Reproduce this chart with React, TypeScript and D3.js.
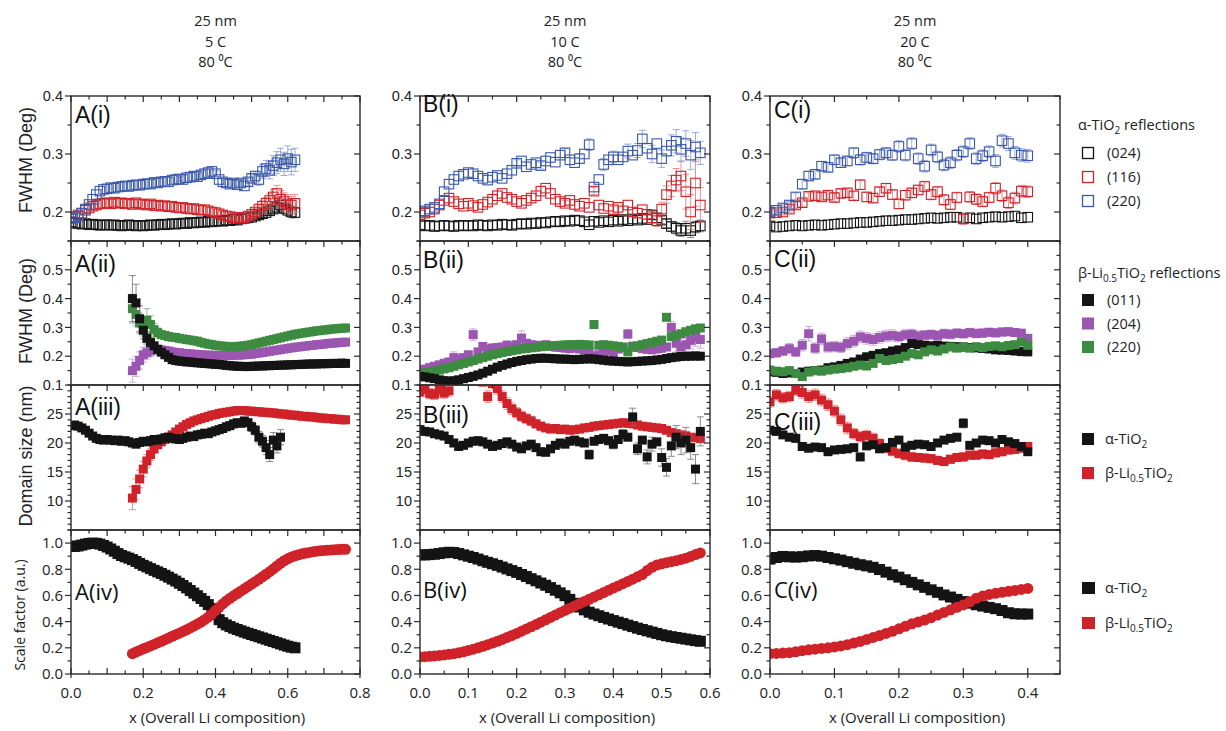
import React from "react";
import * as d3 from "d3";

// ---------- x grids (overall Li composition) ----------
const xA = [0,0.01,0.02,0.03,0.04,0.05,0.06,0.07,0.08,0.09,
  0.1,0.11,0.12,0.13,0.14,0.15,0.16,0.17,0.18,0.19,
  0.2,0.21,0.22,0.23,0.24,0.25,0.26,0.27,0.28,0.29,
  0.3,0.31,0.32,0.33,0.34,0.35,0.36,0.37,0.38,0.39,
  0.4,0.41,0.42,0.43,0.44,0.45,0.46,0.47,0.48,0.49,
  0.5,0.51,0.52,0.53,0.54,0.55,0.56,0.57,0.58,0.59,
  0.6,0.61,0.62];
const xAb = [0.17,0.18,0.19,
  0.2,0.21,0.22,0.23,0.24,0.25,0.26,0.27,0.28,0.29,
  0.3,0.31,0.32,0.33,0.34,0.35,0.36,0.37,0.38,0.39,
  0.4,0.41,0.42,0.43,0.44,0.45,0.46,0.47,0.48,0.49,
  0.5,0.51,0.52,0.53,0.54,0.55,0.56,0.57,0.58,0.59,
  0.6,0.61,0.62,0.63,0.64,0.65,0.66,0.67,0.68,0.69,
  0.7,0.71,0.72,0.73,0.74,0.75,0.76];
const xB = [0,0.01,0.02,0.03,0.04,0.05,0.06,0.07,0.08,0.09,
  0.1,0.11,0.12,0.13,0.14,0.15,0.16,0.17,0.18,0.19,
  0.2,0.21,0.22,0.23,0.24,0.25,0.26,0.27,0.28,0.29,
  0.3,0.31,0.32,0.33,0.34,0.35,0.36,0.37,0.38,0.39,
  0.4,0.41,0.42,0.43,0.44,0.45,0.46,0.47,0.48,0.49,
  0.5,0.51,0.52,0.53,0.54,0.55,0.56,0.57,0.58];
const xC = [0,0.01,0.02,0.03,0.04,0.05,0.06,0.07,0.08,0.09,
  0.1,0.11,0.12,0.13,0.14,0.15,0.16,0.17,0.18,0.19,
  0.2,0.21,0.22,0.23,0.24,0.25,0.26,0.27,0.28,0.29,
  0.3,0.31,0.32,0.33,0.34,0.35,0.36,0.37,0.38,0.39,0.4];

// ---------- Column A (25 nm, 5 C) ----------
const A1_024 = [0.183,0.181,0.180,0.179,0.180,0.178,0.179,0.178,0.177,0.178,
  0.178,0.177,0.178,0.177,0.176,0.177,0.178,0.177,0.176,0.177,
  0.176,0.177,0.178,0.177,0.178,0.179,0.178,0.179,0.180,0.179,
  0.180,0.181,0.180,0.182,0.181,0.182,0.183,0.182,0.184,0.183,
  0.184,0.185,0.184,0.186,0.185,0.187,0.186,0.188,0.189,0.190,
  0.191,0.193,0.195,0.197,0.199,0.202,0.205,0.208,0.212,0.206,
  0.203,0.200,0.199];
const A1_116 = [0.190,0.192,0.195,0.198,0.203,0.207,0.210,0.212,0.214,0.215,
  0.216,0.214,0.217,0.215,0.216,0.214,0.215,0.213,0.216,0.214,
  0.213,0.212,0.214,0.211,0.212,0.210,0.211,0.209,0.210,0.208,
  0.207,0.208,0.206,0.205,0.206,0.204,0.203,0.204,0.202,0.200,
  0.199,0.197,0.195,0.193,0.192,0.190,0.191,0.189,0.190,0.193,
  0.196,0.200,0.205,0.210,0.215,0.220,0.226,0.232,0.222,0.218,
  0.214,0.212,0.215];
const A1_220 = [0.188,0.190,0.193,0.198,0.205,0.213,0.222,0.230,0.236,0.239,
  0.240,0.242,0.241,0.243,0.244,0.245,0.244,0.246,0.247,0.246,
  0.248,0.249,0.248,0.251,0.250,0.252,0.253,0.252,0.255,0.256,
  0.257,0.256,0.259,0.260,0.262,0.261,0.264,0.266,0.268,0.270,
  0.266,0.256,0.252,0.250,0.248,0.250,0.247,0.250,0.245,0.252,
  0.258,0.262,0.256,0.270,0.275,0.272,0.280,0.285,0.290,0.283,
  0.292,0.286,0.290];
const errA1_024 = [[0.5,0.003],[0.51,0.003],[0.52,0.004],[0.53,0.004],[0.54,0.005],[0.55,0.006],[0.56,0.007],[0.57,0.008],[0.58,0.009],[0.59,0.009],[0.6,0.01],[0.61,0.01],[0.62,0.009]];
const errA1_116 = [[0.45,0.004],[0.47,0.004],[0.49,0.005],[0.5,0.005],[0.51,0.006],[0.52,0.008],[0.53,0.009],[0.54,0.01],[0.55,0.012],[0.56,0.013],[0.57,0.014],[0.58,0.015],[0.59,0.015],[0.6,0.016],[0.61,0.015],[0.62,0.015]];
const errA1_220 = [[0.3,0.004],[0.35,0.004],[0.4,0.005],[0.42,0.005],[0.45,0.005],[0.47,0.006],[0.49,0.006],[0.5,0.007],[0.51,0.008],[0.52,0.01],[0.53,0.012],[0.54,0.014],[0.55,0.015],[0.56,0.017],[0.57,0.019],[0.58,0.02],[0.59,0.02],[0.6,0.022],[0.61,0.022],[0.62,0.02]];

const A2_011 = [0.400,0.385,0.330,0.290,0.262,0.248,0.236,0.224,0.214,0.205,
  0.196,0.188,0.185,0.183,0.182,0.180,0.180,0.178,0.177,0.176,
  0.175,0.174,0.173,0.172,0.171,0.170,0.168,0.167,0.166,0.165,
  0.165,0.164,0.164,0.165,0.165,0.166,0.166,0.167,0.167,0.168,
  0.168,0.169,0.169,0.170,0.170,0.171,0.171,0.172,0.172,0.173,
  0.173,0.173,0.174,0.174,0.174,0.175,0.175,0.175,0.176,0.175];
const A2_204 = [0.150,0.165,0.185,0.205,0.212,0.218,0.222,0.224,0.222,0.220,
  0.218,0.215,0.213,0.212,0.210,0.209,0.208,0.207,0.206,0.205,
  0.204,0.204,0.203,0.203,0.202,0.202,0.202,0.203,0.203,0.204,
  0.204,0.205,0.206,0.207,0.209,0.211,0.213,0.215,0.217,0.219,
  0.221,0.223,0.225,0.227,0.229,0.231,0.232,0.234,0.235,0.237,
  0.238,0.240,0.241,0.242,0.244,0.245,0.246,0.247,0.248,0.249];
const A2_220 = [0.365,0.345,0.315,0.300,0.325,0.310,0.292,0.282,0.275,0.272,
  0.268,0.266,0.265,0.262,0.260,0.258,0.256,0.254,0.252,0.248,
  0.245,0.242,0.240,0.238,0.236,0.235,0.234,0.233,0.233,0.234,
  0.235,0.236,0.238,0.240,0.243,0.246,0.249,0.252,0.255,0.258,
  0.261,0.264,0.267,0.270,0.273,0.276,0.278,0.280,0.282,0.284,
  0.286,0.288,0.289,0.291,0.292,0.294,0.295,0.296,0.297,0.298];
const errA2_011 = [[0.17,0.08],[0.18,0.065],[0.19,0.045],[0.2,0.03],[0.21,0.02],[0.22,0.015],[0.23,0.012],[0.24,0.01],[0.25,0.008],[0.26,0.007],[0.27,0.006]];
const errA2_204 = [[0.17,0.04],[0.18,0.035],[0.19,0.03],[0.2,0.025],[0.21,0.022],[0.22,0.02],[0.23,0.016],[0.24,0.013],[0.25,0.01]];
const errA2_220 = [[0.17,0.05],[0.18,0.04],[0.19,0.035],[0.2,0.03],[0.21,0.04],[0.22,0.03],[0.23,0.022],[0.24,0.016],[0.25,0.012]];

const A3_alpha = [23.0,23.1,22.9,22.6,22.2,21.7,21.2,20.8,20.6,20.5,
  20.6,20.5,20.4,20.5,20.3,20.4,20.2,20.0,19.8,20.1,
  20.3,20.2,20.4,20.6,20.5,20.7,20.9,21.0,20.8,20.7,
  20.6,20.8,21.0,21.2,21.1,21.4,21.5,21.7,21.6,21.9,
  22.1,22.3,22.5,22.8,23.0,23.3,23.5,23.4,23.8,23.5,
  22.8,22.2,21.0,20.3,19.2,18.0,20.5,19.5,21.0];
const A3_beta = [10.5,12.0,13.8,15.5,16.9,18.0,19.0,19.7,20.2,20.6,
  21.0,21.4,21.9,22.4,22.8,23.2,23.5,23.8,24.0,24.2,
  24.4,24.6,24.8,24.9,25.1,25.2,25.3,25.4,25.5,25.6,
  25.6,25.6,25.5,25.5,25.4,25.4,25.3,25.3,25.2,25.2,
  25.1,25.0,25.0,24.9,24.8,24.8,24.7,24.6,24.6,24.5,
  24.5,24.4,24.3,24.3,24.2,24.2,24.1,24.1,24.0,24.0];
const errA3_alpha = [[0.48,0.6],[0.5,0.8],[0.51,0.8],[0.52,1.0],[0.53,1.0],[0.54,1.2],[0.55,1.2],[0.56,1.3],[0.57,1.2],[0.58,1.3]];
const errA3_beta = [[0.17,2.0],[0.18,1.8],[0.19,1.5],[0.2,1.3],[0.21,1.1],[0.22,1.0],[0.23,0.8],[0.24,0.7],[0.25,0.6]];

const A4_alpha = [0.975,0.975,0.978,0.985,0.992,0.997,1.000,0.998,0.992,0.982,
  0.970,0.955,0.938,0.920,0.905,0.895,0.885,0.874,0.860,0.845,
  0.830,0.818,0.805,0.792,0.780,0.768,0.754,0.740,0.725,0.710,
  0.693,0.676,0.658,0.638,0.618,0.598,0.577,0.555,0.530,0.500,
  0.455,0.415,0.392,0.375,0.362,0.350,0.340,0.330,0.320,0.311,
  0.302,0.293,0.284,0.275,0.266,0.257,0.248,0.239,0.230,0.221,
  0.212,0.205,0.200];
const A4_beta = [0.155,0.168,0.180,0.192,0.203,0.214,0.226,0.238,0.250,0.262,
  0.275,0.288,0.300,0.312,0.325,0.338,0.352,0.366,0.381,0.397,
  0.415,0.435,0.458,0.485,0.510,0.535,0.558,0.578,0.597,0.615,
  0.633,0.651,0.669,0.687,0.705,0.723,0.742,0.762,0.782,0.803,
  0.825,0.846,0.865,0.880,0.893,0.903,0.911,0.918,0.924,0.929,
  0.934,0.938,0.941,0.944,0.946,0.948,0.950,0.951,0.952,0.952];

// ---------- Column B (25 nm, 10 C) ----------
const B1_024 = [0.178,0.176,0.177,0.175,0.176,0.177,0.176,0.175,0.177,0.176,
  0.177,0.176,0.178,0.177,0.176,0.178,0.177,0.179,0.178,0.177,
  0.179,0.180,0.179,0.181,0.180,0.182,0.181,0.183,0.184,0.183,
  0.185,0.184,0.186,0.185,0.183,0.178,0.184,0.182,0.185,0.183,
  0.186,0.184,0.187,0.185,0.188,0.186,0.189,0.187,0.195,0.190,
  0.186,0.180,0.175,0.172,0.168,0.172,0.168,0.174,0.176];
const B1_116 = [0.195,0.198,0.200,0.205,0.212,0.220,0.224,0.218,0.214,0.210,
  0.215,0.211,0.208,0.213,0.217,0.222,0.228,0.232,0.225,0.222,
  0.218,0.215,0.220,0.224,0.228,0.236,0.241,0.232,0.222,0.218,
  0.215,0.220,0.213,0.210,0.215,0.208,0.236,0.212,0.206,0.210,
  0.204,0.208,0.202,0.212,0.200,0.198,0.204,0.196,0.190,0.185,
  0.205,0.230,0.245,0.255,0.262,0.235,0.200,0.250,0.212];
const B1_220 = [0.200,0.202,0.205,0.208,0.214,0.235,0.248,0.256,0.262,0.265,
  0.268,0.266,0.262,0.258,0.255,0.260,0.263,0.258,0.266,0.272,
  0.284,0.288,0.278,0.282,0.285,0.280,0.288,0.294,0.286,0.298,
  0.302,0.290,0.285,0.292,0.300,0.316,0.243,0.256,0.282,0.290,
  0.295,0.290,0.295,0.305,0.298,0.306,0.326,0.310,0.300,0.318,
  0.292,0.305,0.315,0.322,0.308,0.318,0.298,0.312,0.302];
const errB1_024 = [[0.48,0.006],[0.5,0.006],[0.51,0.007],[0.52,0.008],[0.53,0.01],[0.54,0.01],[0.55,0.012],[0.56,0.012],[0.57,0.01],[0.58,0.01]];
const errB1_116 = [[0.3,0.005],[0.36,0.006],[0.4,0.006],[0.45,0.008],[0.47,0.008],[0.48,0.01],[0.49,0.01],[0.5,0.012],[0.51,0.015],[0.52,0.018],[0.53,0.02],[0.54,0.025],[0.55,0.03],[0.56,0.03],[0.57,0.04],[0.58,0.03]];
const errB1_220 = [[0.2,0.006],[0.25,0.006],[0.3,0.008],[0.33,0.008],[0.35,0.01],[0.38,0.01],[0.4,0.01],[0.43,0.012],[0.45,0.012],[0.46,0.015],[0.48,0.015],[0.5,0.015],[0.52,0.018],[0.53,0.02],[0.54,0.02],[0.55,0.022],[0.56,0.025],[0.57,0.025],[0.58,0.02]];

const B2_011 = [0.130,0.128,0.125,0.122,0.118,0.115,0.113,0.115,0.118,0.122,
  0.126,0.130,0.135,0.141,0.148,0.155,0.162,0.168,0.173,0.178,
  0.182,0.185,0.188,0.190,0.192,0.193,0.193,0.192,0.191,0.190,
  0.190,0.189,0.188,0.189,0.190,0.191,0.190,0.188,0.186,0.184,
  0.183,0.182,0.181,0.180,0.181,0.182,0.183,0.184,0.185,0.187,
  0.189,0.192,0.195,0.197,0.199,0.200,0.200,0.201,0.200];
const B2_204 = [0.150,0.155,0.160,0.165,0.170,0.175,0.180,0.195,0.190,0.195,
  0.205,0.275,0.215,0.234,0.225,0.228,0.230,0.232,0.238,0.235,
  0.240,0.263,0.245,0.240,0.238,0.236,0.240,0.235,0.232,0.230,
  0.228,0.226,0.230,0.225,0.222,0.215,0.200,0.205,0.212,0.218,
  0.210,0.225,0.230,0.277,0.235,0.230,0.226,0.224,0.222,0.225,
  0.228,0.232,0.300,0.245,0.232,0.240,0.255,0.265,0.258];
const B2_220 = [0.140,0.142,0.145,0.148,0.152,0.156,0.160,0.165,0.170,0.175,
  0.180,0.185,0.190,0.195,0.200,0.205,0.209,0.213,0.216,0.219,
  0.222,0.225,0.227,0.229,0.231,0.233,0.234,0.236,0.237,0.238,
  0.239,0.240,0.240,0.241,0.240,0.239,0.310,0.238,0.240,0.238,
  0.236,0.234,0.232,0.215,0.232,0.236,0.240,0.244,0.248,0.252,
  0.256,0.335,0.268,0.272,0.278,0.285,0.290,0.295,0.298];
const errB2_204 = [[0.02,0.015],[0.05,0.015],[0.07,0.02],[0.11,0.02],[0.15,0.015],[0.18,0.015],[0.21,0.025],[0.25,0.015],[0.28,0.015],[0.32,0.015],[0.36,0.012],[0.4,0.012],[0.43,0.015],[0.47,0.012],[0.5,0.015],[0.52,0.02],[0.53,0.03],[0.54,0.03],[0.55,0.03],[0.56,0.03],[0.57,0.03],[0.58,0.03]];
const errB2_220 = [[0.36,0.008],[0.51,0.012]];

const B3_alpha = [22.3,22.0,21.9,21.6,21.4,21.2,20.6,20.0,19.4,19.6,
  20.0,20.3,20.4,20.2,19.8,19.4,19.6,19.9,20.2,19.8,
  19.3,19.0,19.5,19.8,19.2,18.5,18.4,19.0,19.6,20.0,
  19.8,20.3,20.5,20.2,20.0,18.0,20.3,20.6,20.8,20.4,
  19.8,20.6,21.5,21.0,24.5,19.0,20.5,17.6,19.8,20.2,
  17.5,15.8,19.5,21.0,20.0,20.5,19.2,15.5,22.0];
const B3_beta = [28.8,29.3,28.5,28.4,29.2,28.6,29.0,31.0,31.5,32.0,
  32.0,31.5,31.0,30.5,28.0,30.2,29.4,28.0,26.8,25.9,
  25.2,24.6,24.2,23.8,23.3,22.9,22.6,22.4,22.5,22.3,
  22.4,22.2,22.3,22.4,22.6,22.7,22.9,23.0,23.1,23.2,
  23.3,23.4,23.5,23.4,23.3,23.1,22.9,22.8,22.7,22.6,
  22.5,22.2,21.8,21.6,21.4,21.2,21.0,20.9,20.8];
const errB3_alpha = [[0.35,0.8],[0.4,0.8],[0.42,0.8],[0.44,1.5],[0.45,1.0],[0.47,1.2],[0.48,1.2],[0.5,1.5],[0.51,1.5],[0.52,1.8],[0.53,2.0],[0.54,2.0],[0.55,2.2],[0.56,2.0],[0.57,2.5],[0.58,2.5]];
const errB3_beta = [[0,0.8],[0.01,0.8],[0.02,0.9],[0.03,0.9],[0.04,0.9],[0.05,0.9],[0.06,0.9],[0.14,1.0],[0.16,1.0],[0.17,1.0],[0.18,1.0],[0.19,1.0],[0.2,0.9],[0.21,0.9],[0.22,0.8],[0.23,0.8],[0.24,0.7],[0.25,0.7],[0.3,0.5],[0.35,0.5],[0.4,0.5],[0.45,0.6],[0.5,0.7],[0.55,0.8],[0.58,0.8]];

const B4_alpha = [0.910,0.910,0.912,0.915,0.920,0.926,0.930,0.928,0.920,0.910,
  0.900,0.890,0.878,0.865,0.853,0.842,0.830,0.817,0.803,0.790,
  0.776,0.760,0.745,0.728,0.712,0.695,0.678,0.660,0.640,0.620,
  0.598,0.570,0.540,0.512,0.490,0.472,0.458,0.445,0.432,0.420,
  0.408,0.396,0.385,0.373,0.362,0.350,0.340,0.330,0.320,0.310,
  0.300,0.292,0.285,0.279,0.273,0.267,0.261,0.255,0.250];
const B4_beta = [0.130,0.132,0.135,0.138,0.142,0.146,0.150,0.155,0.162,0.170,
  0.180,0.190,0.200,0.212,0.224,0.236,0.250,0.264,0.279,0.294,
  0.310,0.327,0.344,0.361,0.378,0.396,0.414,0.432,0.450,0.468,
  0.486,0.503,0.520,0.537,0.554,0.571,0.588,0.605,0.622,0.639,
  0.656,0.673,0.690,0.707,0.724,0.742,0.760,0.790,0.815,0.832,
  0.842,0.850,0.858,0.866,0.875,0.885,0.898,0.912,0.925];

// ---------- Column C (25 nm, 20 C) ----------
const C1_024 = [0.176,0.174,0.175,0.176,0.177,0.176,0.177,0.178,0.177,0.178,
  0.179,0.180,0.180,0.181,0.182,0.182,0.183,0.184,0.185,0.185,
  0.186,0.187,0.187,0.188,0.189,0.190,0.189,0.190,0.191,0.191,
  0.189,0.190,0.188,0.190,0.191,0.192,0.191,0.192,0.193,0.190,0.191];
const C1_116 = [0.198,0.199,0.200,0.205,0.212,0.216,0.227,0.228,0.226,0.229,
  0.225,0.232,0.233,0.228,0.247,0.226,0.224,0.235,0.241,0.230,
  0.214,0.229,0.233,0.238,0.244,0.230,0.235,0.221,0.213,0.225,
  0.188,0.226,0.222,0.218,0.225,0.241,0.228,0.216,0.224,0.236,0.235];
const C1_220 = [0.200,0.203,0.207,0.212,0.226,0.248,0.262,0.265,0.279,0.277,
  0.290,0.285,0.288,0.302,0.290,0.294,0.292,0.299,0.302,0.298,
  0.313,0.298,0.318,0.292,0.279,0.307,0.295,0.281,0.285,0.298,
  0.304,0.318,0.292,0.297,0.304,0.288,0.323,0.318,0.302,0.298,0.297];
const errC1_116 = [0.004,0.004,0.005,0.005,0.006,0.006,0.006,0.006,0.007,0.007,
  0.007,0.007,0.007,0.007,0.008,0.008,0.008,0.008,0.008,0.008,
  0.008,0.008,0.008,0.008,0.009,0.009,0.009,0.009,0.009,0.009,
  0.009,0.009,0.009,0.009,0.009,0.01,0.01,0.01,0.01,0.01,0.01];
const errC1_220 = [0.005,0.005,0.006,0.006,0.007,0.008,0.008,0.008,0.008,0.008,
  0.008,0.008,0.008,0.009,0.009,0.009,0.009,0.009,0.009,0.009,
  0.01,0.01,0.01,0.01,0.01,0.01,0.01,0.01,0.01,0.01,
  0.01,0.01,0.01,0.01,0.01,0.011,0.011,0.012,0.011,0.011,0.011];

const C2_011 = [0.146,0.144,0.140,0.142,0.140,0.145,0.148,0.150,0.152,0.160,
  0.163,0.168,0.175,0.180,0.190,0.198,0.203,0.209,0.212,0.218,
  0.222,0.230,0.244,0.240,0.238,0.236,0.238,0.235,0.234,0.233,
  0.232,0.230,0.229,0.227,0.225,0.222,0.221,0.220,0.218,0.216,0.215];
const C2_204 = [0.209,0.212,0.218,0.226,0.215,0.238,0.278,0.228,0.260,0.232,
  0.233,0.231,0.244,0.252,0.267,0.262,0.258,0.265,0.270,0.272,
  0.268,0.274,0.276,0.270,0.273,0.275,0.272,0.278,0.276,0.280,
  0.278,0.282,0.279,0.280,0.283,0.281,0.284,0.285,0.282,0.280,0.262];
const C2_220 = [0.152,0.148,0.146,0.150,0.140,0.129,0.145,0.150,0.148,0.152,
  0.155,0.157,0.160,0.165,0.169,0.166,0.175,0.192,0.185,0.188,
  0.192,0.200,0.209,0.205,0.215,0.222,0.218,0.225,0.232,0.228,
  0.232,0.228,0.233,0.230,0.234,0.236,0.233,0.237,0.240,0.249,0.238];
const errC2_204 = [0.015,0.015,0.016,0.018,0.016,0.02,0.025,0.018,0.02,0.018,
  0.018,0.018,0.02,0.02,0.02,0.02,0.02,0.02,0.02,0.02,
  0.018,0.018,0.018,0.018,0.016,0.016,0.016,0.016,0.016,0.015,
  0.015,0.015,0.015,0.015,0.014,0.014,0.014,0.014,0.013,0.013,0.013];

const C3_alpha = [22.2,22.0,21.4,21.0,20.8,19.4,19.1,19.3,19.2,18.5,
  18.8,18.9,19.0,19.2,17.6,19.5,19.7,19.0,19.2,20.1,
  20.5,19.3,19.6,19.8,19.7,19.4,20.0,20.5,20.8,21.0,
  23.4,19.6,20.0,20.5,20.4,20.0,20.6,20.2,19.9,19.4,18.5];
const C3_beta = [27.1,28.3,27.8,28.0,29.1,28.7,28.0,28.3,27.4,26.6,
  25.5,24.0,22.6,21.6,21.1,21.3,20.8,19.9,19.1,18.6,
  18.2,17.9,17.6,17.5,17.4,17.3,17.0,16.8,17.2,17.5,
  17.6,17.9,17.9,18.1,18.0,18.3,18.5,18.8,18.9,19.1,19.4];
const errC3_alpha = [[0.14,0.6],[0.25,0.5],[0.27,0.6],[0.29,0.6],[0.3,0.8],[0.31,0.6],[0.34,0.6],[0.37,0.6],[0.4,0.6]];
const errC3_beta = [0.9,0.9,0.9,0.9,0.9,1.0,1.0,1.0,1.0,1.0,
  1.0,1.0,1.0,0.9,0.9,0.9,0.9,0.8,0.8,0.8,
  0.8,0.8,0.8,0.7,0.7,0.7,0.7,0.7,0.7,0.7,
  0.7,0.7,0.7,0.7,0.7,0.7,0.7,0.7,0.7,0.7,0.7];

const C4_alpha = [0.878,0.890,0.898,0.895,0.893,0.896,0.902,0.905,0.900,0.890,
  0.880,0.870,0.858,0.846,0.835,0.826,0.815,0.798,0.778,0.758,
  0.740,0.720,0.700,0.681,0.662,0.643,0.624,0.604,0.588,0.570,
  0.553,0.541,0.529,0.519,0.509,0.499,0.485,0.468,0.460,0.458,0.458];
const C4_beta = [0.155,0.157,0.160,0.163,0.170,0.178,0.185,0.190,0.195,0.200,
  0.207,0.214,0.224,0.236,0.249,0.264,0.279,0.294,0.310,0.326,
  0.345,0.364,0.383,0.398,0.412,0.430,0.450,0.470,0.490,0.510,
  0.528,0.552,0.578,0.595,0.608,0.616,0.624,0.632,0.638,0.646,0.654];

// ---------- axis tick labels ----------
const xLabelsA = [0, 0.2, 0.4, 0.6, 0.8];
const xLabelsB = [0, 0.1, 0.2, 0.3, 0.4, 0.5, 0.6];
const xLabelsC = [0, 0.1, 0.2, 0.3, 0.4];
const yLabels1 = [0.2, 0.3, 0.4];
const yLabels2 = [0.1, 0.2, 0.3, 0.4, 0.5];
const yLabels3 = [10, 15, 20, 25];
const yLabels4 = [0, 0.2, 0.4, 0.6, 0.8, 1.0];
const headers = [["25 nm", "5 C", "80 \u2070C"], ["25 nm", "10 C", "80 \u2070C"], ["25 nm", "20 C", "80 \u2070C"]];
const letters = ["A", "B", "C"];
const romans = ["i", "ii", "iii", "iv"];

// ---------- styling ----------
const K = "#141414", R = "#cf2229", BL = "#3b59a8", PU = "#9a56b1", GR = "#3d8b40";
const EK = "#6e6e6e", ER = "#e27378", EBL = "#8597d2", EPU = "#c396d3", EGR = "#78b07a";
const ARIAL = "'Liberation Sans', Arial, Helvetica, sans-serif";
const MYRIAD = "'Open Sans', 'Noto Sans', sans-serif";
const AXIS = "#2a2a2a";

type Shape = "hollow" | "square" | "circle";
interface Series { x: number[]; y: number[]; color: string; ecolor: string; shape: Shape; size: number; err?: any[]; }
const mk = (x: number[], y: number[], color: string, ecolor: string, shape: Shape, size: number, err?: any[]): Series => ({ x, y, color, ecolor, shape, size, err });

const COLS = [
  { left: 71, right: 360, domain: [0, 0.8], labels: xLabelsA, center: 217 },
  { left: 420, right: 710, domain: [0, 0.6], labels: xLabelsB, center: 567 },
  { left: 770, right: 1060, domain: [0, 0.45], labels: xLabelsC, center: 917 },
];
const ROWS = [
  { top: 96, bottom: 241, domain: [0.15, 0.4], labels: yLabels1, minor: 0.05, fmt: d3.format(".1f") },
  { top: 241, bottom: 385, domain: [0.1, 0.6], labels: yLabels2, minor: 0.05, fmt: d3.format(".1f") },
  { top: 385, bottom: 530, domain: [5, 30], labels: yLabels3, minor: 1, fmt: d3.format("d") },
  { top: 530, bottom: 674, domain: [0, 1.1], labels: yLabels4, minor: 0.1, fmt: d3.format(".1f") },
];
const PANEL_LABEL_Y = [[123, 272, 415, 600], [112, 268, 423, 598], [118, 267, 430, 598]];

const HS = 9.5, SQ = 9, IVS = 11;
const PANELS: Series[][][] = [
  [
    [mk(xA, A1_024, K, EK, "hollow", HS, errA1_024), mk(xA, A1_116, R, ER, "hollow", HS, errA1_116), mk(xA, A1_220, BL, EBL, "hollow", HS, errA1_220)],
    [mk(xAb, A2_204, PU, EPU, "square", SQ, errA2_204), mk(xAb, A2_220, GR, EGR, "square", SQ, errA2_220), mk(xAb, A2_011, K, EK, "square", SQ, errA2_011)],
    [mk(xAb, A3_beta, R, ER, "square", SQ, errA3_beta), mk(xA, A3_alpha, K, EK, "square", SQ, errA3_alpha)],
    [mk(xA, A4_alpha, K, EK, "square", IVS), mk(xAb, A4_beta, R, ER, "circle", IVS)],
  ],
  [
    [mk(xB, B1_024, K, EK, "hollow", HS, errB1_024), mk(xB, B1_116, R, ER, "hollow", HS, errB1_116), mk(xB, B1_220, BL, EBL, "hollow", HS, errB1_220)],
    [mk(xB, B2_204, PU, EPU, "square", SQ, errB2_204), mk(xB, B2_220, GR, EGR, "square", SQ, errB2_220), mk(xB, B2_011, K, EK, "square", SQ)],
    [mk(xB, B3_beta, R, ER, "square", SQ, errB3_beta), mk(xB, B3_alpha, K, EK, "square", SQ, errB3_alpha)],
    [mk(xB, B4_alpha, K, EK, "square", IVS), mk(xB, B4_beta, R, ER, "circle", IVS)],
  ],
  [
    [mk(xC, C1_024, K, EK, "hollow", HS), mk(xC, C1_116, R, ER, "hollow", HS, errC1_116), mk(xC, C1_220, BL, EBL, "hollow", HS, errC1_220)],
    [mk(xC, C2_204, PU, EPU, "square", SQ, errC2_204), mk(xC, C2_011, K, EK, "square", SQ), mk(xC, C2_220, GR, EGR, "square", SQ)],
    [mk(xC, C3_beta, R, ER, "square", SQ, errC3_beta), mk(xC, C3_alpha, K, EK, "square", SQ, errC3_alpha)],
    [mk(xC, C4_alpha, K, EK, "square", IVS), mk(xC, C4_beta, R, ER, "circle", IVS)],
  ],
];

function errPoints(s: Series) {
  if (!s.err || s.err.length === 0) return [] as { x: number; y: number; e: number }[];
  if (typeof s.err[0] === "number") {
    return (s.err as number[]).map((e, i) => ({ x: s.x[i], y: s.y[i], e })).filter((d) => d.e > 0 && d.y !== undefined);
  }
  const out: { x: number; y: number; e: number }[] = [];
  (s.err as [number, number][]).forEach(([xv, e]) => {
    const i = s.x.findIndex((v) => Math.abs(v - xv) < 1e-6);
    if (i >= 0 && i < s.y.length) out.push({ x: s.x[i], y: s.y[i], e });
  });
  return out;
}

const near = (a: number, list: number[]) => list.some((v) => Math.abs(v - a) < 1e-6);

function BetaLabel({ x, y, suffix }: { x: number; y: number; suffix?: string }) {
  return (
    <text x={x} y={y} fontFamily={MYRIAD} fontSize={14.5} fill="#222">
      {"\u03B2-Li"}<tspan dy={4} fontSize={10}>0.5</tspan><tspan dy={-4}>TiO</tspan><tspan dy={4} fontSize={10}>2</tspan>
      {suffix ? <tspan dy={-4}>{suffix}</tspan> : null}
    </text>
  );
}
function AlphaLabel({ x, y, suffix }: { x: number; y: number; suffix?: string }) {
  return (
    <text x={x} y={y} fontFamily={MYRIAD} fontSize={14.5} fill="#222">
      {"\u03B1-TiO"}<tspan dy={4} fontSize={10}>2</tspan>
      {suffix ? <tspan dy={-4}>{suffix}</tspan> : null}
    </text>
  );
}

export default function App() {
  const W = 1226, H = 731;
  return (
    <svg width={W} height={H} style={{ position: "absolute", left: 0, top: 0, background: "#fff", display: "block" }}>
      <rect x={0} y={0} width={W} height={H} fill="#fff" />
      {COLS.map((col, ci) => (
        <g key={"h" + ci} fontFamily={MYRIAD} fontSize={14.5} fill="#222" textAnchor="middle">
          {headers[ci].map((t, k) => (
            <text key={k} x={(col.left + col.right) / 2} y={26 + k * 20.5}>{t}</text>
          ))}
        </g>
      ))}
      {COLS.map((col, ci) => {
        const xs = d3.scaleLinear().domain(col.domain).range([col.left, col.right]);
        const xTicks = d3.range(0, col.domain[1] + 1e-9, 0.05);
        return ROWS.map((row, ri) => {
          const ys = d3.scaleLinear().domain(row.domain).range([row.bottom, row.top]);
          const yTicks = d3.range(row.domain[0], row.domain[1] + 1e-9, row.minor);
          const clipId = `clip-${ci}-${ri}`;
          const series = PANELS[ci][ri];
          const isIV = ri === 3;
          return (
            <g key={`p${ci}${ri}`}>
              <defs>
                <clipPath id={clipId}>
                  <rect x={col.left} y={row.top} width={col.right - col.left} height={row.bottom - row.top} />
                </clipPath>
              </defs>
              <g clipPath={`url(#${clipId})`}>
                {series.map((s, si) => (
                  <g key={si}>
                    {errPoints(s).map((d, k) => {
                      const px = xs(d.x), y1 = ys(d.y + d.e), y2 = ys(d.y - d.e);
                      return (
                        <g key={k} stroke={s.ecolor} strokeWidth={0.8}>
                          <line x1={px} x2={px} y1={y1} y2={y2} />
                          <line x1={px - 3.5} x2={px + 3.5} y1={y1} y2={y1} />
                          <line x1={px - 3.5} x2={px + 3.5} y1={y2} y2={y2} />
                        </g>
                      );
                    })}
                    {s.y.map((v, k) => {
                      const px = xs(s.x[k]), py = ys(v), h = s.size / 2;
                      if (s.shape === "circle") return <circle key={k} cx={px} cy={py} r={h} fill={s.color} />;
                      if (s.shape === "hollow") return <rect key={k} x={px - h} y={py - h} width={s.size} height={s.size} fill="none" stroke={s.color} strokeWidth={1.1} />;
                      return <rect key={k} x={px - h} y={py - h} width={s.size} height={s.size} fill={s.color} />;
                    })}
                  </g>
                ))}
              </g>
              <rect x={col.left} y={row.top} width={col.right - col.left} height={row.bottom - row.top} fill="none" stroke={AXIS} strokeWidth={1.4} />
              {xTicks.map((t, k) => {
                const major = Math.abs(t * 10 - Math.round(t * 10)) < 1e-6;
                const len = major ? 6 : 3.5;
                const px = xs(t);
                return (
                  <g key={"xt" + k} stroke={AXIS} strokeWidth={1.2}>
                    <line x1={px} x2={px} y1={row.top} y2={row.top + len} />
                    {isIV ? <line x1={px} x2={px} y1={row.bottom} y2={row.bottom - len} /> : null}
                    {isIV && near(t, col.labels) ? <line x1={px} x2={px} y1={row.bottom} y2={row.bottom + 4} /> : null}
                  </g>
                );
              })}
              {yTicks.map((t, k) => {
                const major = near(t, row.labels);
                const len = major ? 6 : 3.5;
                const py = ys(t);
                return (
                  <g key={"yt" + k} stroke={AXIS} strokeWidth={1.2}>
                    <line x1={col.left - len} x2={col.left} y1={py} y2={py} />
                    <line x1={col.right - len} x2={col.right} y1={py} y2={py} />
                  </g>
                );
              })}
              {row.labels.map((t, k) => (
                <text key={"yl" + k} x={col.left - 8} y={ys(t)} dy="0.36em" textAnchor="end"
                  fontFamily={isIV ? MYRIAD : ARIAL} fontSize={isIV ? 15 : 14.5} fill="#222">{row.fmt(t)}</text>
              ))}
              <text x={col.left + (ci === 1 ? 3 : 4)} y={PANEL_LABEL_Y[ci][ri]} fontFamily={isIV ? MYRIAD : ARIAL}
                fontSize={isIV ? 22 : 23} fill="#111">{`${letters[ci]}(${romans[ri]})`}</text>
              {isIV ? col.labels.map((t, k) => (
                <text key={"xl" + k} x={xs(t)} y={698} textAnchor="middle" fontFamily={MYRIAD} fontSize={15} fill="#222">{d3.format(".1f")(t)}</text>
              )) : null}
            </g>
          );
        });
      })}
      {COLS.map((col, ci) => (
        <text key={"xt" + ci} x={col.center} y={723} textAnchor="middle" fontFamily={MYRIAD} fontSize={15} fill="#222">x (Overall Li composition)</text>
      ))}
      <text transform="translate(32,160) rotate(-90)" textAnchor="middle" fontFamily={ARIAL} fontSize={18} fill="#222">FWHM (Deg)</text>
      <text transform="translate(32,311) rotate(-90)" textAnchor="middle" fontFamily={ARIAL} fontSize={18} fill="#222">FWHM (Deg)</text>
      <text transform="translate(32,456) rotate(-90)" textAnchor="middle" fontFamily={ARIAL} fontSize={18} fill="#222">Domain size (nm)</text>
      <text transform="translate(25,615) rotate(-90)" textAnchor="middle" fontFamily={MYRIAD} fontSize={14} fill="#222">Scale factor (a.u.)</text>

      <AlphaLabel x={1078} y={130} suffix=" reflections" />
      {[["(024)", K], ["(116)", R], ["(220)", BL]].map(([t, c], k) => (
        <g key={"l1" + k}>
          <rect x={1082.5} y={147.5 + k * 24} width={11} height={11} fill="none" stroke={c} strokeWidth={1.3} />
          <text x={1107} y={158 + k * 24} fontFamily={MYRIAD} fontSize={14.5} fill="#222">{t}</text>
        </g>
      ))}
      <BetaLabel x={1078} y={278} suffix=" reflections" />
      {[["(011)", K], ["(204)", PU], ["(220)", GR]].map(([t, c], k) => (
        <g key={"l2" + k}>
          <rect x={1082} y={294 + k * 23.5} width={12} height={12} fill={c} />
          <text x={1107} y={305 + k * 23.5} fontFamily={MYRIAD} fontSize={14.5} fill="#222">{t}</text>
        </g>
      ))}
      <rect x={1082} y={433} width={12} height={12} fill={K} />
      <AlphaLabel x={1105} y={444} />
      <rect x={1082} y={467} width={12} height={12} fill={R} />
      <BetaLabel x={1105} y={478} />
      <rect x={1082} y={582} width={13} height={12} fill={K} />
      <AlphaLabel x={1105} y={593} />
      <rect x={1082} y={617} width={13} height={12} fill={R} />
      <BetaLabel x={1105} y={628} />
    </svg>
  );
}
